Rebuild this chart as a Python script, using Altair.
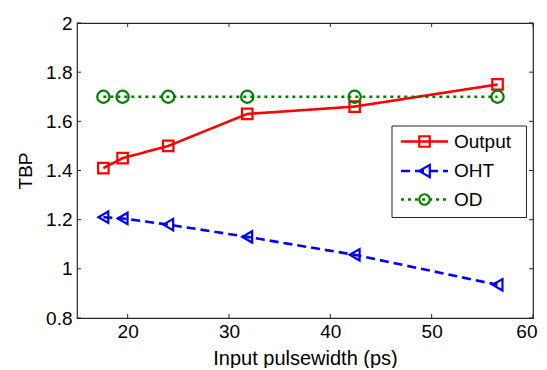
import altair as alt
import pandas as pd

# ---- data ----
pulsewidth = [17.6, 19.5, 24.0, 31.8, 42.4, 56.5]
tbp_output = [1.41, 1.45, 1.50, 1.63, 1.66, 1.75]
tbp_oht = [1.21, 1.205, 1.18, 1.13, 1.057, 0.935]
tbp_od = [1.70, 1.70, 1.70, 1.70, 1.70, 1.70]
series_names = ["Output", "OHT", "OD"]
x_ticks = [20, 30, 40, 50, 60]
y_ticks = [0.8, 1.0, 1.2, 1.4, 1.6, 1.8, 2.0]

rows = []
for name, vals in zip(series_names, [tbp_output, tbp_oht, tbp_od]):
    for xv, yv in zip(pulsewidth, vals):
        rows.append({"series": name, "x": xv, "y": yv})
df = pd.DataFrame(rows)

colors = ["#ff0000", "#0000ff", "#007f00"]
shapes = ["square", "triangle-left", "circle"]
dashes = [[1, 0], [9, 5], [3, 4]]
sizes = [110, 150, 110]

W, H = 456, 295
FONT = "Liberation Sans"
FS = 19
AX = "#262626"

xs = alt.Scale(domain=[15, 60], nice=False, zero=False)
ys = alt.Scale(domain=[0.8, 2.0], nice=False, zero=False)

xaxis = alt.Axis(values=x_ticks, ticks=False, grid=False, domain=False,
                 labelFont=FONT, labelFontSize=FS, labelColor="#000",
                 labelPadding=4, labelFlush=True, labelFlushOffset=4, labelOverlap=False,
                 title="Input pulsewidth (ps)",
                 titleFont=FONT, titleFontSize=20, titleFontWeight="normal",
                 titleColor="#000", titlePadding=7)
yaxis = alt.Axis(values=y_ticks, ticks=False, grid=False, domain=False, format="~g",
                 labelFont=FONT, labelFontSize=FS, labelColor="#000",
                 labelPadding=5, labelFlush=False, labelOverlap=False,
                 title="TBP",
                 titleFont=FONT, titleFontSize=FS, titleFontWeight="normal",
                 titleColor="#000", titlePadding=10)

cscale = alt.Scale(domain=series_names, range=colors)
base = alt.Chart(df).encode(
    x=alt.X("x:Q", scale=xs, axis=xaxis),
    y=alt.Y("y:Q", scale=ys, axis=yaxis),
    color=alt.Color("series:N", scale=cscale, legend=None),
    detail="series:N",
)
lines = base.mark_line(strokeWidth=2.6).encode(
    strokeDash=alt.StrokeDash("series:N", scale=alt.Scale(domain=series_names, range=dashes), legend=None)
)
points = base.mark_point(filled=False, strokeWidth=2.2, opacity=1).encode(
    shape=alt.Shape("series:N", scale=alt.Scale(domain=series_names, range=shapes), legend=None),
    size=alt.Size("series:N", scale=alt.Scale(domain=series_names, range=sizes), legend=None),
)

# inward tick marks on all four sides
xt = pd.DataFrame({"v": x_ticks})
yt = pd.DataFrame({"v": y_ticks})
TL = 4
tick_layers = [
    alt.Chart(xt).mark_rule(color=AX, strokeWidth=1).encode(
        x=alt.X("v:Q", scale=xs), y=alt.value(H), y2=alt.value(H - TL)),
    alt.Chart(xt).mark_rule(color=AX, strokeWidth=1).encode(
        x=alt.X("v:Q", scale=xs), y=alt.value(0), y2=alt.value(TL)),
    alt.Chart(yt).mark_rule(color=AX, strokeWidth=1).encode(
        y=alt.Y("v:Q", scale=ys), x=alt.value(0), x2=alt.value(TL)),
    alt.Chart(yt).mark_rule(color=AX, strokeWidth=1).encode(
        y=alt.Y("v:Q", scale=ys), x=alt.value(W), x2=alt.value(W - TL)),
]

# manual legend
one = pd.DataFrame({"k": [0]})
legend_layers = [
    alt.Chart(one).mark_rect(fill="white", stroke=AX, strokeWidth=1).encode(
        x=alt.value(315), x2=alt.value(449.5), y=alt.value(103), y2=alt.value(194.5))
]
ly = [118.5, 148, 176.5]
for i, name in enumerate(series_names):
    legend_layers.append(
        alt.Chart(one).mark_rule(color=colors[i], strokeWidth=2.6, strokeDash=dashes[i]).encode(
            x=alt.value(324), x2=alt.value(371), y=alt.value(ly[i])))
    legend_layers.append(
        alt.Chart(one).mark_point(color=colors[i], filled=False, strokeWidth=2.2, opacity=1,
                                  shape=shapes[i], size=sizes[i]).encode(
            x=alt.value(347.5), y=alt.value(ly[i])))
    legend_layers.append(
        alt.Chart(one).mark_text(align="left", baseline="middle", font=FONT, fontSize=FS,
                                 color="#000").encode(
            x=alt.value(377), y=alt.value(ly[i]), text=alt.value(name)))

chart = alt.layer(lines, points, *tick_layers, *legend_layers).properties(
    width=W, height=H,
    autosize=alt.AutoSizeParams(type="none"),
    padding={"left": 69, "top": 15, "right": 6, "bottom": 50},
    background="white",
).configure_view(stroke=AX, strokeWidth=1.2)

chart.save("out.html", embed_options={"renderer": "svg", "actions": False})
